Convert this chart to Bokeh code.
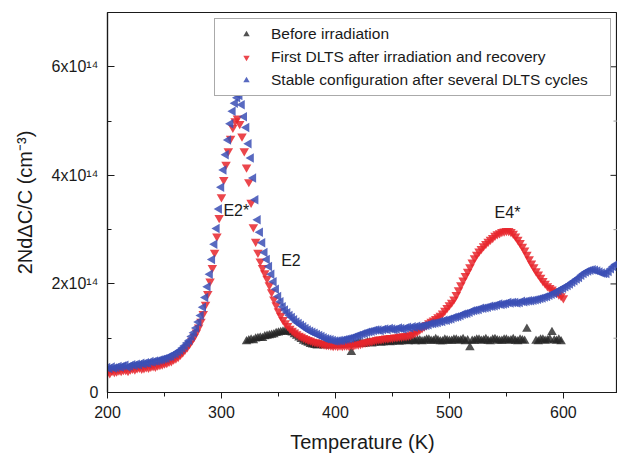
import math

from bokeh.embed import file_html
from bokeh.models import FixedTicker, Label, Legend, LegendItem, Range1d
from bokeh.plotting import figure
from bokeh.resources import INLINE

# DLTS spectra: temperature (K) and 2*Nd*dC/C in units of 1e14 cm^-3

temp_before = [322, 324, 326, 328, 330, 332, 334, 336, 338, 340, 342, 344, 346,
               348, 350, 352, 354, 356, 358, 360, 362, 364, 366, 368, 370, 372,
               374, 376, 378, 380, 382, 384, 386, 388, 390, 392, 394, 396, 398,
               400, 402, 404, 406, 408, 410, 412, 414, 416, 418, 420, 422, 424,
               426, 428, 430, 432, 434, 436, 438, 440, 442, 444, 446, 448, 450,
               452, 454, 456, 458, 460, 462, 464, 466, 468, 470, 472, 474, 476,
               478, 480, 482, 484, 486, 488, 490, 492, 494, 496, 498, 500, 502,
               504, 506, 508, 510, 512, 514, 516, 518, 520, 522, 524, 526, 528,
               530, 532, 534, 536, 538, 540, 542, 544, 546, 548, 550, 552, 554,
               556, 558, 560, 562, 564, 566, 568, 576, 578, 580, 582, 584, 586,
               588, 590, 592, 594, 596, 598]
conc_before = [0.94, 0.96, 0.97, 0.96, 0.99, 1.00, 1.01, 1.00, 1.03, 1.04, 1.05,
               1.06, 1.07, 1.09, 1.10, 1.11, 1.12, 1.13, 1.12, 1.11, 1.10, 1.07,
               1.04, 1.01, 0.98, 0.95, 0.93, 0.91, 0.89, 0.88, 0.87, 0.86, 0.88,
               0.87, 0.86, 0.88, 0.88, 0.86, 0.87, 0.88, 0.89, 0.87, 0.88, 0.90,
               0.89, 0.88, 0.74, 0.90, 0.89, 0.91, 0.91, 0.89, 0.90, 0.92, 0.92,
               0.90, 0.91, 0.93, 0.93, 0.91, 0.92, 0.94, 0.94, 0.92, 0.93, 0.95,
               0.95, 0.93, 0.94, 0.96, 0.96, 0.94, 0.95, 0.97, 0.94, 0.96, 0.96,
               0.94, 0.95, 0.97, 0.97, 0.95, 0.95, 0.98, 0.96, 0.94, 0.94, 0.97,
               0.96, 0.95, 0.95, 0.97, 0.97, 0.95, 0.96, 0.98, 0.94, 0.96, 0.83,
               0.95, 0.95, 0.97, 0.97, 0.95, 0.96, 0.98, 0.95, 0.94, 0.97, 0.98,
               0.96, 0.95, 0.95, 0.97, 0.97, 0.95, 0.96, 0.98, 0.95, 0.94, 0.97,
               0.96, 0.95, 1.17, 0.95, 0.94, 0.97, 0.97, 0.95, 0.96, 0.98, 1.11,
               0.96, 0.95, 0.97, 0.94]

temp_first = [200, 202, 204, 206, 208, 210, 212, 214, 216, 218, 220, 222, 224,
              226, 228, 230, 232, 234, 236, 238, 240, 242, 244, 246, 248, 250,
              252, 254, 256, 258, 260, 262, 264, 266, 268, 270, 272, 274, 276,
              278, 280, 282, 284, 286, 288, 290, 292, 294, 296, 298, 300, 302,
              304, 306, 308, 310, 312, 314, 316, 318, 320, 322, 324, 326, 328,
              330, 332, 334, 336, 338, 340, 342, 344, 346, 348, 350, 352, 354,
              356, 358, 360, 362, 364, 366, 368, 370, 372, 374, 376, 378, 380,
              382, 384, 386, 388, 390, 392, 394, 396, 398, 400, 402, 404, 406,
              408, 410, 412, 414, 416, 418, 420, 422, 424, 426, 428, 430, 432,
              434, 436, 438, 440, 442, 444, 446, 448, 450, 452, 454, 456, 458,
              460, 462, 464, 466, 468, 470, 472, 474, 476, 478, 480, 482, 484,
              486, 488, 490, 492, 494, 496, 498, 500, 502, 504, 506, 508, 510,
              512, 514, 516, 518, 520, 522, 524, 526, 528, 530, 532, 534, 536,
              538, 540, 542, 544, 546, 548, 550, 552, 554, 556, 558, 560, 562,
              564, 566, 568, 570, 572, 574, 576, 578, 580, 582, 584, 586, 588,
              590, 592, 594, 596, 598, 600]
conc_first = [0.38, 0.36, 0.40, 0.38, 0.39, 0.41, 0.40, 0.42, 0.42, 0.40, 0.43,
              0.44, 0.43, 0.45, 0.46, 0.44, 0.45, 0.47, 0.46, 0.48, 0.49, 0.48,
              0.50, 0.51, 0.52, 0.54, 0.55, 0.57, 0.58, 0.61, 0.63, 0.66, 0.70,
              0.74, 0.79, 0.84, 0.90, 0.96, 1.03, 1.11, 1.20, 1.31, 1.45, 1.62,
              1.82, 2.05, 2.30, 2.58, 2.88, 3.22, 3.60, 3.92, 4.20, 4.45, 4.68,
              4.88, 5.00, 5.05, 4.95, 4.72, 4.45, 4.15, 3.88, 3.50, 3.05, 2.78,
              2.58, 2.42, 2.30, 2.20, 2.10, 1.98, 1.85, 1.72, 1.61, 1.50, 1.42,
              1.34, 1.28, 1.23, 1.18, 1.14, 1.11, 1.08, 1.05, 1.03, 1.01, 0.99,
              0.97, 0.96, 0.94, 0.93, 0.92, 0.91, 0.90, 0.89, 0.88, 0.88, 0.87,
              0.86, 0.87, 0.86, 0.87, 0.86, 0.87, 0.87, 0.86, 0.88, 0.87, 0.89,
              0.89, 0.90, 0.91, 0.92, 0.93, 0.94, 0.95, 0.96, 0.97, 0.98, 0.98,
              0.99, 1.00, 1.00, 1.01, 1.01, 1.02, 1.02, 1.03, 1.03, 1.04, 1.04,
              1.05, 1.06, 1.08, 1.10, 1.13, 1.16, 1.19, 1.22, 1.25, 1.28, 1.31,
              1.33, 1.36, 1.39, 1.42, 1.46, 1.51, 1.56, 1.61, 1.66, 1.72, 1.80,
              1.89, 1.98, 2.07, 2.15, 2.23, 2.31, 2.40, 2.48, 2.54, 2.60, 2.65,
              2.70, 2.74, 2.78, 2.82, 2.85, 2.89, 2.92, 2.94, 2.96, 2.97, 2.98,
              2.98, 2.96, 2.93, 2.88, 2.82, 2.76, 2.69, 2.62, 2.54, 2.46, 2.38,
              2.31, 2.24, 2.18, 2.12, 2.06, 2.01, 1.96, 1.93, 1.90, 1.87, 1.84,
              1.81, 1.78, 1.74]

temp_stable = [200, 202, 204, 206, 208, 210, 212, 214, 216, 218, 220, 222, 224,
               226, 228, 230, 232, 234, 236, 238, 240, 242, 244, 246, 248, 250,
               252, 254, 256, 258, 260, 262, 264, 266, 268, 270, 272, 274, 276,
               278, 280, 282, 284, 286, 288, 290, 292, 294, 296, 298, 300, 302,
               304, 306, 308, 310, 312, 314, 316, 318, 320, 322, 324, 326, 328,
               330, 332, 334, 336, 338, 340, 342, 344, 346, 348, 350, 352, 354,
               356, 358, 360, 362, 364, 366, 368, 370, 372, 374, 376, 378, 380,
               382, 384, 386, 388, 390, 392, 394, 396, 398, 400, 402, 404, 406,
               408, 410, 412, 414, 416, 418, 420, 422, 424, 426, 428, 430, 432,
               434, 436, 438, 440, 442, 444, 446, 448, 450, 452, 454, 456, 458,
               460, 462, 464, 466, 468, 470, 472, 474, 476, 478, 480, 482, 484,
               486, 488, 490, 492, 494, 496, 498, 500, 502, 504, 506, 508, 510,
               512, 514, 516, 518, 520, 522, 524, 526, 528, 530, 532, 534, 536,
               538, 540, 542, 544, 546, 548, 550, 552, 554, 556, 558, 560, 562,
               564, 566, 568, 570, 572, 574, 576, 578, 580, 582, 584, 586, 588,
               590, 592, 594, 596, 598, 600, 602, 604, 606, 608, 610, 612, 614,
               616, 618, 620, 622, 624, 626, 628, 630, 632, 634, 636, 638, 640,
               642, 644, 646]
conc_stable = [0.46, 0.44, 0.47, 0.45, 0.46, 0.48, 0.47, 0.49, 0.50, 0.47, 0.49,
               0.51, 0.50, 0.52, 0.51, 0.54, 0.53, 0.55, 0.54, 0.57, 0.56, 0.58,
               0.58, 0.60, 0.61, 0.62, 0.63, 0.66, 0.67, 0.70, 0.72, 0.75, 0.78,
               0.82, 0.86, 0.91, 0.96, 1.03, 1.10, 1.19, 1.30, 1.42, 1.57, 1.75,
               1.95, 2.18, 2.45, 2.73, 3.02, 3.38, 3.78, 4.10, 4.38, 4.65, 4.95,
               5.18, 5.33, 5.43, 5.47, 5.30, 5.08, 4.88, 4.58, 4.32, 3.95, 3.55,
               3.18, 2.95, 2.76, 2.58, 2.45, 2.32, 2.18, 2.04, 1.90, 1.77, 1.67,
               1.58, 1.52, 1.47, 1.42, 1.38, 1.34, 1.30, 1.27, 1.24, 1.21, 1.18,
               1.15, 1.13, 1.11, 1.09, 1.07, 1.05, 1.03, 1.01, 0.99, 0.98, 0.97,
               0.96, 0.95, 0.95, 0.96, 0.96, 0.97, 0.98, 0.99, 1.00, 1.02, 1.03,
               1.05, 1.06, 1.08, 1.09, 1.11, 1.12, 1.13, 1.14, 1.15, 1.15, 1.14,
               1.16, 1.17, 1.16, 1.18, 1.17, 1.16, 1.17, 1.19, 1.18, 1.17, 1.19,
               1.20, 1.19, 1.21, 1.20, 1.22, 1.21, 1.22, 1.23, 1.24, 1.25, 1.27,
               1.27, 1.28, 1.29, 1.31, 1.31, 1.33, 1.33, 1.35, 1.36, 1.38, 1.39,
               1.40, 1.42, 1.44, 1.45, 1.46, 1.48, 1.50, 1.51, 1.52, 1.53, 1.55,
               1.55, 1.56, 1.57, 1.59, 1.59, 1.60, 1.61, 1.63, 1.62, 1.63, 1.64,
               1.66, 1.65, 1.66, 1.66, 1.65, 1.66, 1.68, 1.67, 1.68, 1.69, 1.69,
               1.70, 1.71, 1.72, 1.73, 1.74, 1.76, 1.77, 1.79, 1.81, 1.83, 1.85,
               1.88, 1.90, 1.92, 1.95, 1.97, 2.00, 2.03, 2.06, 2.09, 2.12, 2.16,
               2.19, 2.22, 2.24, 2.25, 2.26, 2.25, 2.24, 2.22, 2.20, 2.19, 2.19,
               2.23, 2.28, 2.32, 2.36]

series_names = ["Before irradiation",
                "First DLTS after irradiation and recovery",
                "Stable configuration after several DLTS cycles"]

x_ticks = [200, 300, 400, 500, 600]
x_minor_ticks = [250, 350, 450, 550, 650]
y_ticks = [0, 2, 4, 6]
y_minor_ticks = [1, 3, 5]
y_tick_labels = ["0", "2x10¹⁴", "4x10¹⁴", "6x10¹⁴"]

FONT = "Liberation Sans"
INK = "#1a1a1a"
X_END = 647.5
PX_PER_K = 510 / (X_END - 200)        # frame is 510 px wide

p = figure(width=617, height=455,
           x_range=Range1d(200, X_END), y_range=Range1d(0, 7),
           output_backend="svg", toolbar_location=None,
           min_border_left=107, min_border_right=0,
           min_border_top=12, min_border_bottom=62)
p.xgrid.visible = False
p.ygrid.visible = False
p.outline_line_color = INK
p.outline_line_width = 1.2
p.background_fill_color = "white"
p.border_fill_color = "white"

# bottom axis: outward ticks
xa = p.xaxis[0]
xa.ticker = FixedTicker(ticks=x_ticks, minor_ticks=x_minor_ticks)
xa.axis_label = "Temperature (K)"
xa.axis_label_text_font = FONT
xa.axis_label_text_font_size = "20px"
xa.axis_label_text_font_style = "normal"
xa.axis_label_text_color = INK
xa.axis_label_standoff = 10
xa.major_label_text_font = FONT
xa.major_label_text_font_size = "16px"
xa.major_label_text_color = INK
xa.major_label_standoff = 7
xa.major_tick_in = 0
xa.major_tick_out = 6
xa.minor_tick_in = 0
xa.minor_tick_out = 4
xa.axis_line_color = INK
xa.axis_line_width = 1.2
xa.major_tick_line_color = INK
xa.minor_tick_line_color = INK

# left axis: inward ticks, labels with powers of ten
ya = p.yaxis[0]
ya.ticker = FixedTicker(ticks=y_ticks, minor_ticks=y_minor_ticks)
ya.major_label_overrides = {t: s for t, s in zip(y_ticks, y_tick_labels)}
ya.major_label_text_font = FONT
ya.major_label_text_font_size = "16px"
ya.major_label_text_color = INK
ya.major_label_standoff = 9
ya.major_tick_in = 7
ya.major_tick_out = 0
ya.minor_tick_in = 4
ya.minor_tick_out = 0
ya.axis_line_color = INK
ya.axis_line_width = 1.2
ya.major_tick_line_color = INK
ya.minor_tick_line_color = INK
ya.axis_label = "2NdΔC/C (cm⁻³)"
ya.axis_label_text_font = FONT
ya.axis_label_text_font_size = "20px"
ya.axis_label_text_font_style = "normal"
ya.axis_label_text_color = INK
ya.axis_label_standoff = 13

# right-hand frame edge: inward tick marks at the same y ticks
p.segment(x0=[X_END] * len(y_ticks), y0=y_ticks,
          x1=[X_END - 7 / PX_PER_K] * len(y_ticks), y1=y_ticks,
          line_color=INK, line_width=1)
p.segment(x0=[X_END] * len(y_minor_ticks), y0=y_minor_ticks,
          x1=[X_END - 4 / PX_PER_K] * len(y_minor_ticks), y1=y_minor_ticks,
          line_color="#999999", line_width=1)

# data
r_before = p.scatter(temp_before, conc_before, marker="triangle", size=9.5,
                     fill_color="#262626", fill_alpha=0.8, line_color=None)
r_first = p.scatter(temp_first, conc_first, marker="inverted_triangle", size=9.5,
                    fill_color="#e8262d", fill_alpha=0.85, line_color=None)
r_stable = p.scatter(temp_stable, conc_stable, marker="triangle", size=9.5,
                     angle=math.pi / 2,
                     fill_color="#3b4fb5", fill_alpha=0.85, line_color=None)

legend = Legend(items=[LegendItem(label=series_names[0], renderers=[r_before]),
                       LegendItem(label=series_names[1], renderers=[r_first]),
                       LegendItem(label=series_names[2], renderers=[r_stable])],
                location="top_right", margin=6, padding=6, spacing=5,
                glyph_width=50, glyph_height=16, label_height=16,
                label_width=333, label_standoff=0,
                label_text_font=FONT, label_text_font_size="15.5px",
                label_text_color=INK,
                border_line_color="#555555", border_line_width=1,
                background_fill_color="white", background_fill_alpha=1)
p.add_layout(legend)

# peak names
for txt, tx, ty in [("E2*", 313, 3.35), ("E2", 361, 2.43), ("E4*", 551, 3.31)]:
    p.add_layout(Label(x=tx, y=ty, text=txt, text_align="center",
                       text_baseline="middle", text_font=FONT,
                       text_font_size="16px", text_color=INK))

open("out.html", "w").write(file_html(p, INLINE))
